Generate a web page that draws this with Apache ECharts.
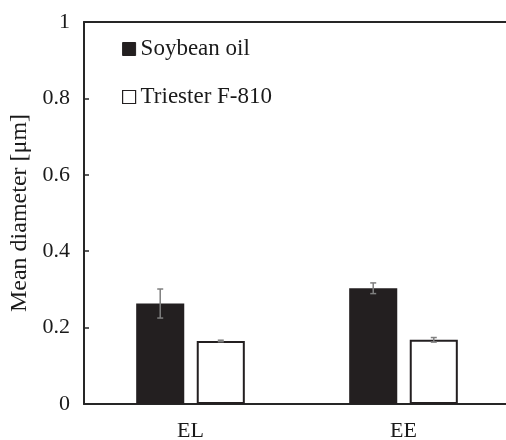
<!DOCTYPE html>
<html><head><meta charset="utf-8">
<script src="https://cdn.jsdelivr.net/npm/echarts@6/dist/echarts.min.js"></script>
<style>html,body{margin:0;padding:0;background:#fff;overflow:hidden;width:506px;height:440px}#c{width:524px;height:440px}</style>
</head><body><div id="c"></div>
<script>
var categories = ['EL', 'EE'];
var soybean = [0.263, 0.303];
var soybeanErr = [0.038, 0.014];
var triester = [0.165, 0.168];
var triesterErr = [0.002, 0.006];
var yTicks = [0, 0.2, 0.4, 0.6, 0.8, 1];

var FONT = '"Liberation Serif", "Times New Roman", serif';
var catGap = 0.49, barGapR = 0.26;

function errSeries(vals, errs, sign) {
  var data = vals.map(function (v, i) { return [i, v - errs[i], v + errs[i]]; });
  return {
    type: 'custom', z: 5, silent: true,
    data: data,
    encode: { x: 0, y: [1, 2] },
    renderItem: function (params, api) {
      var band = api.size([1, 0])[0];
      var w = band * (1 - catGap) / (2 + barGapR);
      var off = sign * w * (1 + barGapR) / 2;
      var lo = api.coord([api.value(0), api.value(1)]);
      var hi = api.coord([api.value(0), api.value(2)]);
      var x = lo[0] + off, cap = 3;
      var st = { stroke: '#7f7f7f', lineWidth: 1.5 };
      return { type: 'group', children: [
        { type: 'line', shape: { x1: x, y1: lo[1], x2: x, y2: hi[1] }, style: st },
        { type: 'line', shape: { x1: x - cap, y1: lo[1], x2: x + cap, y2: lo[1] }, style: st },
        { type: 'line', shape: { x1: x - cap, y1: hi[1], x2: x + cap, y2: hi[1] }, style: st }
      ]};
    }
  };
}

var chart = echarts.init(document.getElementById('c'), null, { renderer: 'canvas' });
chart.setOption({
  animation: false,
  backgroundColor: '#fff',
  grid: { left: 84, width: 426, top: 22, height: 382, show: false,
    containLabel: false, outerBoundsMode: 'none' },
  legend: {
    orient: 'vertical', left: 122, top: 37, padding: 0, itemWidth: 13, itemHeight: 13, itemGap: 24,
    icon: 'rect',
    textStyle: { fontFamily: FONT, fontSize: 23, lineHeight: 24, color: '#1a1a1a' },
    data: [
      { name: 'Soybean oil', itemStyle: { color: '#231f20', borderColor: '#231f20', borderWidth: 1 } },
      { name: 'Triester F-810', itemStyle: { color: '#fff', borderColor: '#231f20', borderWidth: 1.2 } }
    ]
  },
  xAxis: [{
    type: 'category', data: categories,
    axisLine: { show: true, lineStyle: { color: '#262626', width: 2 } },
    axisTick: { show: false },
    axisLabel: { fontFamily: FONT, fontSize: 22, color: '#1a1a1a', margin: 16 }
  }, {
    type: 'category', data: categories, position: 'top',
    axisLine: { show: true, lineStyle: { color: '#262626', width: 2 } },
    axisTick: { show: false }, axisLabel: { show: false }, splitLine: { show: false }
  }],
  yAxis: {
    type: 'value', min: 0, max: 1, interval: 0.2,
    name: 'Mean diameter [μm]', nameLocation: 'middle', nameGap: 51,
    nameTextStyle: { fontFamily: FONT, fontSize: 24, color: '#1a1a1a' },
    splitLine: { show: false },
    axisLine: { show: true, lineStyle: { color: '#262626', width: 2 } },
    axisTick: { show: true, inside: true, length: 5, lineStyle: { color: '#262626', width: 1.5 } },
    axisLabel: { fontFamily: FONT, fontSize: 22, color: '#1a1a1a', margin: 14,
      formatter: function (v) { return yTicks.indexOf(Math.round(v * 10) / 10) >= 0 ? String(Math.round(v * 10) / 10) : ''; } }
  },
  series: [
    { name: 'Soybean oil', type: 'bar', data: soybean, barCategoryGap: (catGap * 100) + '%', barGap: (barGapR * 100) + '%',
      itemStyle: { color: '#231f20', borderColor: '#231f20', borderWidth: 0 } },
    { name: 'Triester F-810', type: 'bar', data: triester,
      itemStyle: { color: '#fff', borderColor: '#231f20', borderWidth: 2 } },
    errSeries(soybean, soybeanErr, -1),
    errSeries(triester, triesterErr, 1)
  ]
});
</script></body></html>
